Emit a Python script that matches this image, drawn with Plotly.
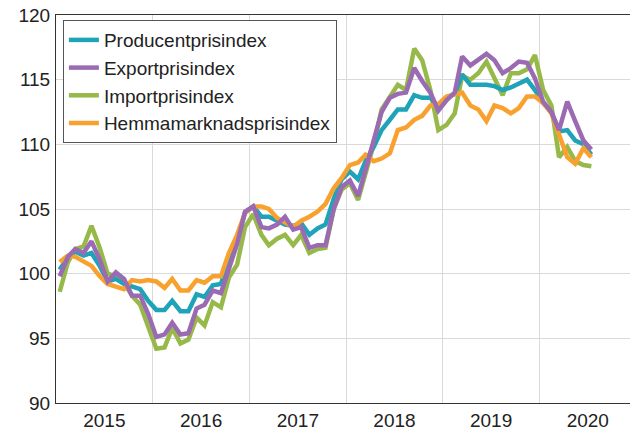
import plotly.graph_objects as go
import pandas as pd

months = pd.date_range("2015-01-01", periods=67, freq="MS") + pd.Timedelta(days=14)
dates = [d.strftime("%Y-%m-%d") for d in months]

producent = [100.3, 101.3, 101.7, 101.4, 101.6, 100.6, 99.4, 99.6, 99.2, 99.0, 98.8, 97.9,
             97.2, 97.2, 97.9, 97.1, 97.1, 98.4, 98.2, 99.1, 99.2, 101.1, 102.7, 104.7,
             105.2, 104.4, 104.4, 104.1, 103.8, 103.7, 103.9, 103.0, 103.5, 103.8, 105.8, 107.3,
             107.9, 107.3, 108.7, 109.8, 111.1, 111.9, 112.7, 112.7, 113.8, 113.6, 113.6, 112.9,
             113.6, 113.9, 115.4, 114.6, 114.6, 114.6, 114.5, 114.2, 114.4, 114.7, 115.0, 114.2,
             113.2, 112.5, 111.0, 111.1, 110.3, 110.0, 109.2]
export = [99.8, 101.3, 101.9, 101.6, 102.5, 101.1, 99.4, 100.1, 99.6, 98.3, 98.3, 96.9,
          95.1, 95.3, 96.2, 95.3, 95.4, 97.3, 97.6, 98.7, 98.5, 100.4, 102.3, 104.8,
          105.2, 103.6, 103.5, 103.8, 104.4, 103.4, 103.6, 102.0, 102.2, 102.2, 105.0, 106.7,
          107.2, 106.0, 108.0, 110.3, 112.5, 113.6, 113.9, 114.0, 115.9, 114.9, 114.0, 112.6,
          113.4, 114.0, 116.8, 116.1, 116.5, 117.0, 116.5, 115.5, 115.9, 116.4, 116.3, 115.1,
          113.3, 112.5, 111.1, 113.3, 111.8, 110.3, 109.6]
importp = [98.6, 100.9, 101.9, 102.1, 103.7, 102.0, 100.0, 99.8, 99.3, 98.3, 97.6, 96.0,
           94.2, 94.3, 95.8, 94.6, 94.9, 96.6, 96.0, 97.8, 97.4, 99.7, 100.7, 103.6,
           104.6, 103.0, 102.2, 102.7, 103.0, 102.2, 103.0, 101.6, 101.9, 102.0, 105.0, 106.5,
           107.0, 105.7, 107.6, 110.0, 112.7, 113.7, 114.6, 114.2, 117.4, 116.5, 114.2, 111.1,
           111.5, 112.4, 115.3, 115.0, 115.5, 116.4, 115.1, 113.8, 115.5, 115.5, 115.8, 116.9,
           114.2, 113.0, 109.0, 109.8, 108.7, 108.4, 108.3]
hemma = [100.9, 101.4, 101.3, 100.9, 100.6, 99.8, 99.2, 99.0, 98.8, 99.5, 99.4, 99.5,
         99.4, 98.9, 99.6, 98.7, 98.7, 99.5, 99.3, 99.8, 99.8, 101.6, 103.0, 104.7,
         105.2, 105.2, 105.0, 104.3, 104.0, 103.6, 104.1, 104.4, 104.8, 105.4, 106.6, 107.4,
         108.4, 108.6, 109.2, 108.7, 108.9, 109.3, 111.1, 111.3, 111.9, 112.2, 113.0, 113.1,
         113.7, 113.9, 114.0, 113.0, 112.7, 111.8, 113.0, 112.8, 112.4, 112.8, 113.7, 113.7,
         113.2, 112.4, 110.7, 109.0, 108.5, 109.7, 109.0]

names = ["Producentprisindex", "Exportprisindex", "Importprisindex", "Hemmamarknadsprisindex"]
colors = ["#1fa3b8", "#9a6bb3", "#97b94a", "#f9a12e"]
series = [producent, export, importp, hemma]
draw_order = [2, 0, 3, 1]

fig = go.Figure()
for k in draw_order:
    fig.add_trace(go.Scatter(
        x=dates, y=series[k], name=names[k], mode="lines",
        line=dict(color=colors[k], width=4.5), legendrank=k + 1,
    ))

fig.update_layout(
    width=630, height=432,
    margin=dict(l=56, r=0, t=15, b=29),
    paper_bgcolor="white", plot_bgcolor="white",
    font=dict(family="Liberation Sans, Arial, sans-serif", size=19, color="#222222"),
    showlegend=True,
    legend=dict(x=0.012, y=0.987, xanchor="left", yanchor="top",
                bgcolor="white", bordercolor="#555555", borderwidth=1,
                font=dict(size=19), tracegroupgap=0, itemwidth=30),
)
fig.update_xaxes(
    type="date", range=["2015-01-01", "2020-12-08"],
    tick0="2015-01-01", dtick="M12", tickformat="%Y", ticklabelmode="period",
    showgrid=True, gridcolor="#d9d9d9", gridwidth=1,
    showline=True, linecolor="#333333", linewidth=1, ticks="", mirror=True,
    automargin=False,
)
fig.update_yaxes(
    range=[90, 120], dtick=5, tick0=90,
    showgrid=True, gridcolor="#d9d9d9", gridwidth=1, zeroline=False,
    showline=True, linecolor="#333333", linewidth=1, ticks="", ticklabelstandoff=1,
    automargin=False,
)
fig.write_html("out.html", config={"displayModeBar": False},
               post_script="document.body.style.margin='0';document.body.style.padding='0';")
